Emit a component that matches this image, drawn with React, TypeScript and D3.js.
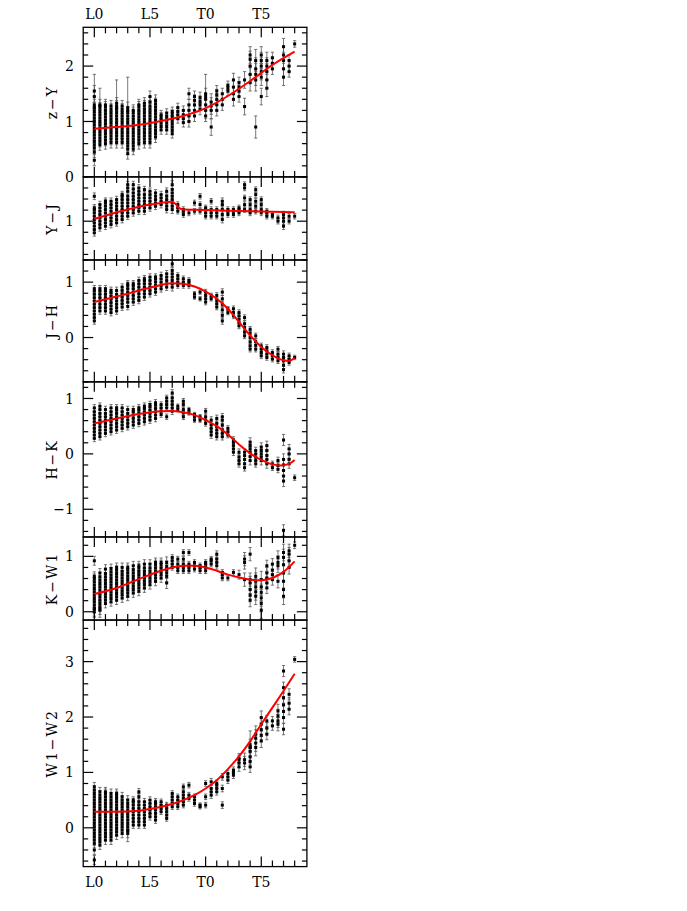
import React from 'react';
import * as d3 from 'd3';

// ---------- data ----------
const xTickValues = [0, 5, 10, 15];
const xTickLabels = ['L0', 'L5', 'T0', 'T5'];

type Col = [number, number, number[]]; // [spectral type, error, values]
type Pt = [number, number];

const zY: Col[] = [
  [0, 0.1, [0.30, 0.45, 0.52, 0.58, 0.64, 0.70, 0.76, 0.82, 0.88, 0.94, 1.00, 1.06, 1.12, 1.18, 1.24, 1.30, 1.45, 1.55]],
  [0, 0.6, [1.25]],
  [0.5, 0.1, [0.58, 0.64, 0.70, 0.76, 0.82, 0.88, 0.94, 1.00, 1.06, 1.12, 1.18, 1.24, 1.30]],
  [0.5, 0.32, [1.28]],
  [1, 0.1, [0.60, 0.66, 0.72, 0.78, 0.84, 0.90, 0.96, 1.02, 1.08, 1.14, 1.20, 1.26, 1.30]],
  [1.5, 0.1, [0.62, 0.68, 0.74, 0.80, 0.86, 0.92, 0.98, 1.04, 1.10, 1.16, 1.22, 1.28]],
  [2, 0.1, [0.62, 0.68, 0.74, 0.80, 0.86, 0.92, 0.98, 1.04, 1.10, 1.16, 1.22, 1.28, 1.33]],
  [2, 0.5, [1.25]],
  [2.5, 0.1, [0.62, 0.68, 0.74, 0.80, 0.86, 0.92, 0.98, 1.04, 1.10, 1.16, 1.22, 1.28]],
  [3, 0.1, [0.42, 0.50, 0.56, 0.62, 0.68, 0.74, 0.80, 0.86, 0.92, 0.98, 1.04, 1.10, 1.16, 1.25]],
  [3, 0.6, [1.2]],
  [3.5, 0.1, [0.50, 0.56, 0.62, 0.68, 0.74, 0.80, 0.86, 0.92, 0.98, 1.04, 1.10, 1.16, 1.20]],
  [4, 0.1, [0.60, 0.66, 0.72, 0.78, 0.84, 0.90, 0.96, 1.02, 1.08, 1.14, 1.20, 1.26, 1.30]],
  [4.5, 0.1, [0.62, 0.68, 0.74, 0.80, 0.86, 0.92, 0.98, 1.04, 1.10, 1.16, 1.22, 1.28, 1.33]],
  [5, 0.1, [0.62, 0.68, 0.74, 0.80, 0.86, 0.92, 0.98, 1.04, 1.10, 1.16, 1.22, 1.28, 1.35, 1.45]],
  [5.5, 0.1, [0.72, 0.78, 0.84, 0.90, 0.96, 1.02, 1.08, 1.14, 1.20, 1.26, 1.32, 1.38]],
  [6, 0.08, [0.85, 0.91, 0.97, 1.03, 1.08, 1.12]],
  [6.5, 0.08, [0.85, 0.91, 0.97, 1.03, 1.09, 1.15]],
  [7, 0.08, [0.78, 0.84, 0.90, 0.96, 1.02, 1.08, 1.13, 1.18]],
  [7.5, 0.08, [1.05, 1.12, 1.18, 1.25]],
  [8, 0.08, [0.98, 1.05, 1.12, 1.20]],
  [8.5, 0.1, [1.00, 1.10, 1.20, 1.30, 1.50]],
  [9, 0.1, [1.10, 1.20, 1.30, 1.38, 1.45]],
  [9.5, 0.1, [1.22, 1.30, 1.36, 1.43]],
  [10, 0.1, [1.10, 1.20, 1.30, 1.40, 1.50]],
  [10, 0.4, [1.45]],
  [10.5, 0.15, [0.90, 1.20, 1.28, 1.35]],
  [11, 0.1, [1.20, 1.30, 1.40, 1.48, 1.55]],
  [11.5, 0.1, [1.30, 1.40, 1.50]],
  [12, 0.08, [1.55, 1.60, 1.65]],
  [12.5, 0.12, [1.40, 1.50, 1.62, 1.75]],
  [13, 0.1, [1.45, 1.55, 1.62, 1.70]],
  [13.5, 0.15, [1.27, 1.75]],
  [14, 0.15, [1.70, 1.85, 2.00, 2.12, 2.20]],
  [14.5, 0.2, [0.90, 1.75, 1.85, 1.95, 2.10]],
  [15, 0.15, [1.45, 1.80, 1.90, 2.00, 2.10, 2.20]],
  [15.5, 0.15, [1.60, 1.75, 1.90, 2.00, 2.10]],
  [16, 0.1, [1.95, 2.05, 2.15]],
  [17, 0.15, [1.80, 1.95, 2.10, 2.20, 2.35]],
  [17.5, 0.1, [1.90, 2.00, 2.10]],
  [18, 0.06, [2.40]],
];

const yJ: Col[] = [
  [0, 0.06, [0.79, 0.85, 0.91, 0.97, 1.03, 1.09, 1.15, 1.21, 1.24, 1.45]],
  [0.5, 0.06, [0.88, 0.94, 1.00, 1.06, 1.12, 1.18, 1.24, 1.30]],
  [1, 0.06, [0.91, 0.97, 1.03, 1.09, 1.15, 1.21, 1.27, 1.33, 1.36]],
  [1.5, 0.06, [0.94, 1.00, 1.06, 1.12, 1.18, 1.24, 1.30, 1.36]],
  [2, 0.06, [0.97, 1.03, 1.09, 1.15, 1.21, 1.27, 1.33, 1.39]],
  [2.5, 0.06, [1.03, 1.09, 1.15, 1.21, 1.27, 1.33, 1.39, 1.45, 1.48]],
  [3, 0.06, [1.09, 1.15, 1.21, 1.27, 1.33, 1.39, 1.45, 1.54, 1.60, 1.66]],
  [3.5, 0.06, [1.15, 1.21, 1.27, 1.33, 1.39, 1.45, 1.51, 1.58, 1.66]],
  [4, 0.06, [1.18, 1.24, 1.30, 1.36, 1.42, 1.48, 1.54, 1.60]],
  [4.5, 0.06, [1.18, 1.24, 1.30, 1.36, 1.42, 1.48, 1.57]],
  [5, 0.06, [1.24, 1.30, 1.36, 1.42, 1.48, 1.54]],
  [5.5, 0.06, [1.27, 1.33, 1.39, 1.45, 1.51]],
  [6, 0.06, [1.30, 1.36, 1.42, 1.48]],
  [6.5, 0.06, [1.21, 1.27, 1.33, 1.39, 1.45, 1.54]],
  [7, 0.07, [1.21, 1.27, 1.33, 1.39, 1.45, 1.51, 1.57, 1.66]],
  [7.5, 0.05, [1.18, 1.24, 1.30]],
  [8, 0.05, [1.12, 1.18, 1.21]],
  [8.5, 0.05, [1.15]],
  [9, 0.05, [1.18, 1.33]],
  [9.5, 0.05, [1.18, 1.30, 1.45]],
  [10, 0.05, [1.09, 1.15, 1.21, 1.24]],
  [10.5, 0.05, [1.09, 1.15, 1.21, 1.36]],
  [11, 0.05, [1.09, 1.15, 1.21]],
  [11.5, 0.06, [1.03, 1.12, 1.21, 1.30, 1.36]],
  [12, 0.05, [1.12, 1.18, 1.21]],
  [12.5, 0.05, [1.12, 1.18, 1.21]],
  [13, 0.05, [1.15, 1.21, 1.24]],
  [13.5, 0.05, [1.21, 1.30, 1.42, 1.60, 1.66]],
  [14, 0.05, [1.15, 1.21, 1.30, 1.39]],
  [14.5, 0.05, [1.18, 1.27, 1.36, 1.48, 1.57]],
  [15, 0.05, [1.15, 1.21, 1.30, 1.39]],
  [15.5, 0.05, [1.09, 1.15, 1.18]],
  [16, 0.05, [1.09, 1.12]],
  [16.5, 0.05, [1.00, 1.06]],
  [17, 0.06, [0.91, 1.00, 1.06, 1.12]],
  [17.5, 0.05, [1.00, 1.09]],
  [18, 0.05, [1.09]],
];

const jH: Col[] = [
  [0, 0.06, [0.30, 0.36, 0.42, 0.48, 0.54, 0.60, 0.66, 0.72, 0.78, 0.84, 0.88]],
  [0.5, 0.06, [0.48, 0.54, 0.60, 0.66, 0.72, 0.78, 0.84, 0.88]],
  [1, 0.06, [0.48, 0.54, 0.60, 0.66, 0.72, 0.78, 0.84, 0.88]],
  [1.5, 0.06, [0.45, 0.51, 0.57, 0.63, 0.69, 0.75, 0.81, 0.85]],
  [2, 0.06, [0.48, 0.54, 0.60, 0.66, 0.72, 0.78, 0.85]],
  [2.5, 0.06, [0.55, 0.61, 0.67, 0.73, 0.79, 0.85, 0.91]],
  [3, 0.06, [0.56, 0.64, 0.70, 0.76, 0.82, 0.88, 0.94, 0.97]],
  [3.5, 0.06, [0.64, 0.70, 0.76, 0.82, 0.88, 0.94, 0.97]],
  [4, 0.06, [0.67, 0.73, 0.79, 0.85, 0.91, 0.97, 1.03]],
  [4.5, 0.06, [0.73, 0.79, 0.85, 0.91, 0.97, 1.03, 1.06]],
  [5, 0.06, [0.79, 0.85, 0.91, 0.97, 1.03, 1.09]],
  [5.5, 0.06, [0.82, 0.88, 0.94, 1.00, 1.06, 1.09]],
  [6, 0.06, [0.88, 0.94, 1.00, 1.06, 1.12]],
  [6.5, 0.06, [0.91, 0.97, 1.03, 1.09, 1.15]],
  [7, 0.07, [0.91, 0.97, 1.03, 1.09, 1.15, 1.21, 1.33]],
  [7.5, 0.05, [0.94, 1.00, 1.06, 1.12]],
  [8, 0.05, [0.94, 1.00, 1.06]],
  [8.5, 0.05, [0.94, 1.00, 1.03]],
  [9, 0.04, [0.73, 0.79]],
  [9.5, 0.04, [0.70, 0.82]],
  [10, 0.05, [0.64, 0.70, 0.76, 0.82]],
  [10.5, 0.04, [0.70, 0.76]],
  [11, 0.05, [0.55, 0.61, 0.67, 0.76]],
  [11.5, 0.06, [0.30, 0.40, 0.50, 0.60, 0.70, 0.82]],
  [12, 0.04, [0.45, 0.52]],
  [12.5, 0.05, [0.39, 0.45, 0.52]],
  [13, 0.05, [0.21, 0.27, 0.33, 0.39, 0.45]],
  [13.5, 0.05, [0.03, 0.10, 0.18, 0.25, 0.36]],
  [14, 0.05, [-0.21, -0.15, -0.08, 0.00, 0.08, 0.15]],
  [14.5, 0.05, [-0.21, -0.14, -0.07, 0.03]],
  [15, 0.05, [-0.33, -0.27, -0.21, -0.15]],
  [15.5, 0.05, [-0.36, -0.30, -0.24, -0.18]],
  [16, 0.05, [-0.39, -0.33, -0.27]],
  [16.5, 0.05, [-0.42, -0.36, -0.30, -0.21]],
  [17, 0.06, [-0.58, -0.50, -0.42, -0.36, -0.30]],
  [17.5, 0.05, [-0.45, -0.39, -0.33]],
  [18, 0.04, [-0.36]],
];

const hK: Col[] = [
  [0, 0.06, [0.28, 0.34, 0.40, 0.46, 0.52, 0.58, 0.64, 0.70, 0.76, 0.83]],
  [0.5, 0.06, [0.31, 0.37, 0.43, 0.49, 0.55, 0.61, 0.67, 0.73, 0.80, 0.86]],
  [1, 0.06, [0.37, 0.43, 0.49, 0.55, 0.61, 0.67, 0.73, 0.80]],
  [1.5, 0.06, [0.40, 0.46, 0.52, 0.58, 0.64, 0.70, 0.76, 0.83]],
  [2, 0.06, [0.43, 0.49, 0.55, 0.61, 0.67, 0.73, 0.79, 0.83]],
  [2.5, 0.06, [0.46, 0.52, 0.58, 0.64, 0.70, 0.76, 0.83]],
  [3, 0.06, [0.49, 0.55, 0.61, 0.67, 0.73, 0.80]],
  [3.5, 0.06, [0.52, 0.58, 0.64, 0.70, 0.76, 0.80]],
  [4, 0.06, [0.55, 0.61, 0.67, 0.73, 0.79, 0.83]],
  [4.5, 0.06, [0.58, 0.64, 0.70, 0.76, 0.82, 0.86]],
  [5, 0.06, [0.61, 0.67, 0.73, 0.79, 0.85, 0.89]],
  [5.5, 0.06, [0.64, 0.70, 0.76, 0.82, 0.88, 0.92]],
  [6, 0.05, [0.71, 0.77, 0.83, 0.89]],
  [6.5, 0.05, [0.67, 0.83, 0.89, 0.95, 1.01]],
  [7, 0.06, [0.77, 0.83, 0.89, 0.95, 1.01, 1.10]],
  [7.5, 0.04, [0.80, 0.86]],
  [8, 0.05, [0.67, 0.74, 0.80, 0.89, 0.95]],
  [8.5, 0.04, [0.74, 0.80]],
  [9, 0.04, [0.61, 0.67, 0.71]],
  [9.5, 0.04, [0.61, 0.67]],
  [10, 0.05, [0.55, 0.61, 0.67, 0.77]],
  [10.5, 0.06, [0.34, 0.40, 0.46, 0.52, 0.61]],
  [11, 0.06, [0.31, 0.37, 0.43, 0.49, 0.55, 0.64]],
  [11.5, 0.06, [0.31, 0.37, 0.43, 0.52, 0.61, 0.67]],
  [12, 0.05, [0.34, 0.40, 0.46]],
  [12.5, 0.06, [0.03, 0.09, 0.15, 0.21, 0.25]],
  [13, 0.06, [-0.18, -0.12, -0.06, 0.03]],
  [13.5, 0.06, [-0.25, -0.18, -0.10, -0.03, 0.03]],
  [14, 0.08, [-0.12, -0.05, 0.03, 0.09, 0.15, 0.21]],
  [14.5, 0.06, [-0.18, -0.12, -0.06, 0.00, 0.06]],
  [15, 0.08, [-0.12, -0.06, 0.00, 0.06, 0.12]],
  [15.5, 0.08, [-0.18, -0.10, -0.03, 0.06, 0.15]],
  [16, 0.05, [-0.25, -0.18]],
  [16.5, 0.06, [-0.28, -0.21, -0.12]],
  [17, 0.1, [-1.38, -0.49, -0.40, -0.30, -0.20, -0.10, 0.25]],
  [17.5, 0.08, [-0.18, -0.10, 0.00, 0.09]],
  [18, 0.05, [-0.43]],
];

const kW1: Col[] = [
  [0, 0.08, [0.00, 0.06, 0.12, 0.18, 0.24, 0.30, 0.36, 0.42, 0.48, 0.54, 0.60, 0.64, 0.92]],
  [0, 0.15, [0.05]],
  [0.5, 0.08, [0.03, 0.09, 0.15, 0.21, 0.27, 0.33, 0.39, 0.45, 0.51, 0.57, 0.63, 0.70]],
  [0.5, 0.15, [0.05]],
  [1, 0.08, [0.15, 0.21, 0.27, 0.33, 0.39, 0.45, 0.51, 0.57, 0.63, 0.69, 0.77]],
  [1.5, 0.08, [0.18, 0.24, 0.30, 0.36, 0.42, 0.48, 0.54, 0.60, 0.66, 0.72, 0.78]],
  [2, 0.08, [0.21, 0.27, 0.33, 0.39, 0.45, 0.51, 0.57, 0.63, 0.69, 0.75, 0.80]],
  [2.5, 0.08, [0.25, 0.31, 0.37, 0.43, 0.49, 0.55, 0.61, 0.67, 0.73, 0.80]],
  [3, 0.08, [0.28, 0.34, 0.40, 0.46, 0.52, 0.58, 0.64, 0.70, 0.76, 0.80]],
  [3.5, 0.08, [0.34, 0.40, 0.46, 0.52, 0.58, 0.64, 0.70, 0.76, 0.83]],
  [4, 0.08, [0.37, 0.43, 0.49, 0.55, 0.61, 0.67, 0.73, 0.79, 0.83]],
  [4.5, 0.08, [0.43, 0.49, 0.55, 0.61, 0.67, 0.73, 0.79, 0.86]],
  [5, 0.08, [0.49, 0.55, 0.61, 0.67, 0.73, 0.79, 0.86]],
  [5.5, 0.08, [0.55, 0.61, 0.67, 0.73, 0.79, 0.85, 0.89]],
  [6, 0.08, [0.61, 0.67, 0.73, 0.79, 0.85, 0.89]],
  [6.5, 0.1, [0.52, 0.64, 0.70, 0.76, 0.82, 0.89]],
  [7, 0.05, [0.80, 0.86, 0.92, 0.98]],
  [7.5, 0.05, [0.74, 0.80, 0.86, 0.95]],
  [8, 0.05, [0.74, 0.80, 0.86, 0.95, 1.07]],
  [8.5, 0.05, [0.74, 0.80, 0.86, 1.07]],
  [9, 0.05, [0.77, 0.83, 0.89]],
  [9.5, 0.05, [0.74, 0.80, 0.83]],
  [10, 0.05, [0.74, 0.80, 0.86, 0.89]],
  [10.5, 0.05, [0.86, 0.92, 0.95]],
  [11, 0.06, [0.83, 0.89, 0.95, 1.04]],
  [11.5, 0.05, [0.61, 0.67, 0.71]],
  [12, 0.05, [0.61]],
  [12.5, 0.05, [0.71]],
  [13, 0.08, [0.67]],
  [13.5, 0.12, [0.58, 0.89, 0.95]],
  [14, 0.12, [0.21, 0.30, 0.40, 0.52, 0.58, 1.04]],
  [14.5, 0.15, [0.28, 0.36, 0.45, 0.55, 0.64]],
  [15, 0.15, [0.03, 0.15, 0.25, 0.35, 0.45, 0.58]],
  [15.5, 0.1, [0.43, 0.52, 0.61, 0.70, 0.83]],
  [16, 0.1, [0.58, 0.67, 0.75, 0.86]],
  [16.5, 0.12, [0.55, 0.83, 0.89, 0.98]],
  [17, 0.15, [0.28, 0.40, 0.55, 0.70, 0.85, 0.98, 1.07]],
  [17.5, 0.12, [0.80, 0.92, 1.04, 1.10]],
  [18, 0.06, [1.20]],
];

const w1W2: Col[] = [
  [0, 0.08, [-0.58, -0.40, -0.28, -0.22, -0.16, -0.10, -0.04, 0.02, 0.08, 0.14, 0.20, 0.26, 0.32, 0.38, 0.44, 0.50, 0.56, 0.62, 0.68, 0.74]],
  [0.5, 0.08, [-0.31, -0.25, -0.19, -0.13, -0.07, -0.01, 0.05, 0.11, 0.17, 0.23, 0.29, 0.35, 0.41, 0.47, 0.53, 0.59, 0.65]],
  [1, 0.08, [-0.22, -0.16, -0.10, -0.04, 0.02, 0.08, 0.14, 0.20, 0.26, 0.32, 0.38, 0.44, 0.50, 0.56, 0.62, 0.65]],
  [1.5, 0.08, [-0.22, -0.16, -0.10, -0.04, 0.02, 0.08, 0.14, 0.20, 0.26, 0.32, 0.38, 0.44, 0.50, 0.56, 0.62]],
  [2, 0.08, [-0.13, -0.07, -0.01, 0.05, 0.11, 0.17, 0.23, 0.29, 0.35, 0.41, 0.47, 0.53, 0.58, 0.62]],
  [2.5, 0.08, [-0.10, -0.04, 0.02, 0.08, 0.14, 0.20, 0.26, 0.32, 0.38, 0.44, 0.50, 0.56]],
  [3, 0.08, [-0.10, -0.04, 0.02, 0.08, 0.14, 0.20, 0.26, 0.32, 0.38, 0.44, 0.50]],
  [3, 0.2, [-0.05]],
  [3.5, 0.06, [0.05, 0.11, 0.17, 0.23, 0.29, 0.35, 0.41, 0.47, 0.50]],
  [4, 0.06, [0.05, 0.11, 0.17, 0.23, 0.29, 0.35, 0.41, 0.47, 0.56, 0.65]],
  [4.5, 0.06, [0.05, 0.11, 0.17, 0.23, 0.29, 0.35, 0.41, 0.47]],
  [5, 0.06, [0.20, 0.26, 0.32, 0.38, 0.44, 0.50]],
  [5.5, 0.06, [0.14, 0.20, 0.26, 0.32, 0.38, 0.44, 0.47]],
  [6, 0.05, [0.29, 0.35, 0.41, 0.47]],
  [6.5, 0.05, [0.17, 0.23, 0.29, 0.35, 0.41]],
  [7, 0.05, [0.38, 0.44, 0.50, 0.56, 0.62]],
  [7.5, 0.05, [0.38, 0.44, 0.50, 0.56]],
  [8, 0.05, [0.41, 0.47, 0.53, 0.59, 0.65, 0.74]],
  [8.5, 0.05, [0.53, 0.59, 0.77]],
  [9, 0.05, [0.44, 0.50, 0.56]],
  [9.5, 0.04, [0.38, 0.41]],
  [10, 0.05, [0.41, 0.56, 0.80]],
  [10.5, 0.06, [0.59, 0.65, 0.71, 0.83]],
  [11, 0.06, [0.65, 0.71, 0.77, 0.80]],
  [11.5, 0.06, [0.41, 0.71, 0.92]],
  [12, 0.06, [0.86, 0.92, 0.98]],
  [12.5, 0.06, [0.95, 1.00, 1.04]],
  [13, 0.08, [1.10, 1.17, 1.23, 1.26]],
  [13.5, 0.12, [1.17, 1.23]],
  [14, 0.1, [1.10, 1.20, 1.28, 1.38, 1.45, 1.50]],
  [14, 0.3, [1.45]],
  [14.5, 0.15, [1.45, 1.53, 1.62, 1.69]],
  [15, 0.12, [1.57, 1.67, 1.77, 1.87, 1.99]],
  [15.5, 0.1, [1.69, 1.80, 1.93]],
  [16, 0.08, [1.84, 1.93]],
  [16.5, 0.12, [1.87, 1.93, 2.02, 2.11]],
  [17, 0.1, [1.78, 1.99, 2.10, 2.22, 2.35, 2.53, 2.83]],
  [17.5, 0.1, [2.14, 2.25, 2.41]],
  [18, 0.05, [3.04]],
];

// fitted relations
const zYFit: Pt[] = [[0, 0.87], [2, 0.9], [4, 0.94], [6, 1.01], [8, 1.1], [10, 1.24], [12, 1.46], [14, 1.73], [16, 2.02], [18, 2.26]];
const yJFit: Pt[] = [[0, 1.04], [1, 1.1], [2, 1.16], [3, 1.21], [4, 1.26], [5, 1.3], [6, 1.33], [6.5, 1.345], [7, 1.35], [7.3, 1.31], [7.6, 1.24], [8, 1.21], [9, 1.205], [10, 1.2], [12, 1.19], [14, 1.18], [16, 1.17], [18, 1.16]];
const jHFit: Pt[] = [[0, 0.64], [1, 0.69], [2, 0.74], [3, 0.79], [4, 0.85], [5, 0.9], [6, 0.95], [7, 0.98], [8, 0.97], [9, 0.92], [10, 0.83], [11, 0.7], [12, 0.52], [13, 0.28], [14, 0.04], [15, -0.17], [16, -0.32], [17, -0.41], [17.5, -0.42], [18, -0.37]];
const hKFit: Pt[] = [[0, 0.55], [2, 0.64], [4, 0.72], [6, 0.77], [7, 0.775], [8, 0.75], [9, 0.7], [10, 0.61], [11, 0.5], [12, 0.35], [13, 0.17], [14, 0.01], [15, -0.11], [16, -0.19], [16.7, -0.21], [17.5, -0.18], [18, -0.11]];
const kW1Fit: Pt[] = [[0, 0.32], [2, 0.43], [4, 0.59], [6, 0.74], [7, 0.8], [8, 0.83], [9, 0.83], [10, 0.8], [11, 0.74], [12, 0.67], [13, 0.62], [14, 0.58], [15, 0.57], [16, 0.61], [17, 0.72], [18, 0.91]];
const w1W2Fit: Pt[] = [[0, 0.29], [2, 0.29], [4, 0.31], [5, 0.34], [6, 0.38], [7, 0.43], [8, 0.5], [9, 0.59], [10, 0.71], [11, 0.86], [12, 1.06], [13, 1.29], [14, 1.56], [15, 1.87], [16, 2.17], [17, 2.47], [18, 2.78]];

const panelLabels = ['z\u2212Y', 'Y\u2212J', 'J\u2212H', 'H\u2212K', 'K\u2212W1', 'W1\u2212W2'];
const panelDomains: [number, number][] = [[0, 2.7], [0.3, 1.8], [-0.8, 1.4], [-1.5, 1.3], [-0.15, 1.35], [-0.7, 3.75]];
const panelCols = [zY, yJ, jH, hK, kW1, w1W2];
const panelFits = [zYFit, yJFit, jHFit, hKFit, kW1Fit, w1W2Fit];

// ---------- layout ----------
const W = 687, H = 911;
const left = 83.2, right = 306.9;
const top0 = 27.3, bottom0 = 866.6;
const FONT = "'DejaVu Serif', serif";

export default function App() {
  const x = d3.scaleLinear().domain([-1, 19.1]).range([left, right]);
  const totalSpan = d3.sum(panelDomains, (d) => d[1] - d[0]);
  const k = (bottom0 - top0) / totalSpan;
  let cursor = top0;
  const panels = panelDomains.map((dom, i) => {
    const h = (dom[1] - dom[0]) * k;
    const t = cursor;
    cursor += h;
    const y = d3.scaleLinear().domain(dom).range([t + h, t]);
    return { i, dom, t, b: t + h, y };
  });
  const xMinor = d3.range(0, 19, 1);

  return (
    <svg width={W} height={H} style={{ position: 'absolute', left: 0, top: 0, background: '#fff' }}>
      <defs>
        {panels.map((p) => (
          <clipPath id={`clip${p.i}`} key={p.i}>
            <rect x={left} y={p.t} width={right - left} height={p.b - p.t} />
          </clipPath>
        ))}
      </defs>
      {panels.map((p) => {
        const cols = panelCols[p.i];
        const fit = panelFits[p.i];
        const line = d3.line<Pt>().x((d) => x(d[0])).y((d) => p.y(d[1])).curve(d3.curveMonotoneX);
        const lo = Math.ceil(p.dom[0] / 0.2 - 1e-6);
        const hi = Math.floor(p.dom[1] / 0.2 + 1e-6);
        const minor = d3.range(lo, hi + 1).map((v) => +(v * 0.2).toFixed(2));
        const majors = d3.range(Math.ceil(p.dom[0] - 1e-6), Math.floor(p.dom[1] + 1e-6) + 1);
        return (
          <g key={p.i}>
            <g clipPath={`url(#clip${p.i})`}>
              {cols.map((c, ci) =>
                c[2].map((v, vi) => {
                  const cx = x(c[0]);
                  const y1 = p.y(v - c[1]);
                  const y2 = p.y(v + c[1]);
                  return (
                    <g key={`${ci}-${vi}`}>
                      <line x1={cx} x2={cx} y1={y1} y2={y2} stroke="#555" strokeWidth={0.8} />
                      <line x1={cx - 1.6} x2={cx + 1.6} y1={y1} y2={y1} stroke="#555" strokeWidth={0.8} />
                      <line x1={cx - 1.6} x2={cx + 1.6} y1={y2} y2={y2} stroke="#555" strokeWidth={0.8} />
                    </g>
                  );
                })
              )}
              {cols.map((c, ci) =>
                c[2].map((v, vi) => (
                  <rect key={`p${ci}-${vi}`} x={x(c[0]) - 1.5} y={p.y(v) - 1.5} width={3} height={3} fill="#000" />
                ))
              )}
              <path d={line(fit) || ''} fill="none" stroke="#ff0000" strokeWidth={2} />
            </g>
            {/* frame */}
            <rect x={left} y={p.t} width={right - left} height={p.b - p.t} fill="none" stroke="#000" strokeWidth={1.3} />
            {/* y ticks */}
            {minor.map((v) => {
              const isMajor = Math.abs(v - Math.round(v)) < 1e-6;
              const len = isMajor ? 10 : 5;
              const yy = p.y(v);
              return (
                <g key={`yt${v}`}>
                  <line x1={left} x2={left + len} y1={yy} y2={yy} stroke="#000" strokeWidth={1.2} />
                  <line x1={right} x2={right - len} y1={yy} y2={yy} stroke="#000" strokeWidth={1.2} />
                </g>
              );
            })}
            {majors.map((v) => (
              <text key={`yl${v}`} x={74} y={p.y(v)} dy="0.36em" textAnchor="end" fontFamily={FONT} fontSize={14}>
                {v < 0 ? `\u2212${Math.abs(v)}` : `${v}`}
              </text>
            ))}
            {/* x ticks on top and bottom */}
            {xMinor.map((s) => {
              const isMajor = s % 5 === 0;
              const len = isMajor ? 10 : 6;
              const xx = x(s);
              return (
                <g key={`xt${s}`}>
                  <line x1={xx} x2={xx} y1={p.t} y2={p.t + len} stroke="#000" strokeWidth={1.2} />
                  <line x1={xx} x2={xx} y1={p.b} y2={p.b - len} stroke="#000" strokeWidth={1.2} />
                </g>
              );
            })}
            <text
              transform={`translate(57,${(p.t + p.b) / 2}) rotate(-90)`}
              textAnchor="middle"
              fontFamily={FONT}
              fontSize={14}
              letterSpacing={2}
            >
              {panelLabels[p.i]}
            </text>
          </g>
        );
      })}
      {xTickValues.map((s, i) => (
        <g key={`xl${s}`}>
          <text x={x(s)} y={18.5} textAnchor="middle" fontFamily={FONT} fontSize={14}>{xTickLabels[i]}</text>
          <text x={x(s)} y={887} textAnchor="middle" fontFamily={FONT} fontSize={14}>{xTickLabels[i]}</text>
        </g>
      ))}
    </svg>
  );
}
